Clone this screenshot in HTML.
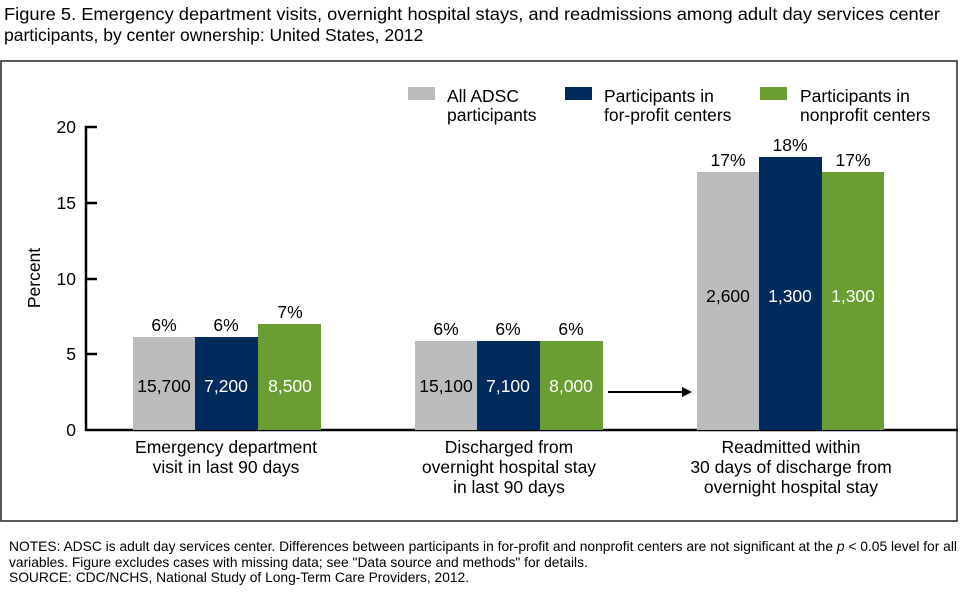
<!DOCTYPE html>
<html><head><meta charset="utf-8"><style>
html,body{margin:0;padding:0;background:#fff}
body{width:960px;height:587px;position:relative;overflow:hidden;font-family:"Liberation Sans",Arial,sans-serif}
</style></head><body>
<svg width="960" height="587" xmlns="http://www.w3.org/2000/svg" font-family="Liberation Sans, Arial, sans-serif">
<text x="4" y="20" font-size="17.5" textLength="936" lengthAdjust="spacingAndGlyphs">Figure 5. Emergency department visits, overnight hospital stays, and readmissions among adult day services center</text>
<text x="4" y="41" font-size="17.5">participants, by center ownership: United States, 2012</text>
<rect x="1" y="61" width="956" height="460" fill="none" stroke="#222" stroke-width="1.5"/>
<!-- legend -->
<rect x="408" y="87" width="27" height="13" fill="#BBBCBE"/>
<text x="447" y="102" font-size="17.5">All ADSC</text><text x="447" y="121" font-size="17.5">participants</text>
<rect x="565" y="87" width="27" height="13" fill="#002B5C"/>
<text x="604" y="102" font-size="17.5">Participants in</text><text x="604" y="121" font-size="17.5">for-profit centers</text>
<rect x="760" y="87" width="27" height="13" fill="#6A9E33"/>
<text x="800" y="102" font-size="17.5">Participants in</text><text x="800" y="121" font-size="17.5">nonprofit centers</text>
<!-- axis -->
<g stroke="#000" stroke-width="2.5" fill="none">
<path d="M97 127H86V430H958"/>
<path d="M86 203H97M86 279H97M86 354H97"/>
</g>
<g font-size="17.5" text-anchor="end">
<text x="76" y="133">20</text><text x="76" y="209">15</text><text x="76" y="285">10</text><text x="76" y="360">5</text><text x="76" y="436">0</text>
</g>
<text transform="translate(40,278) rotate(-90)" font-size="17.5" text-anchor="middle">Percent</text>
<!-- bars -->
<rect x="133" y="337" width="62" height="93" fill="#BBBCBE"/>
<rect x="195" y="337" width="63" height="93" fill="#002B5C"/>
<rect x="258" y="324" width="63" height="106" fill="#6A9E33"/>
<rect x="415" y="341" width="62" height="89" fill="#BBBCBE"/>
<rect x="477" y="341" width="63" height="89" fill="#002B5C"/>
<rect x="540" y="341" width="63" height="89" fill="#6A9E33"/>
<rect x="697" y="172" width="62" height="258" fill="#BBBCBE"/>
<rect x="759" y="157" width="63" height="273" fill="#002B5C"/>
<rect x="822" y="172" width="62" height="258" fill="#6A9E33"/>
<g font-size="17.5" text-anchor="middle">
<text x="164" y="331">6%</text><text x="226" y="331">6%</text><text x="290" y="318">7%</text>
<text x="446" y="335">6%</text><text x="508" y="335">6%</text><text x="571" y="335">6%</text>
<text x="728" y="166">17%</text><text x="790" y="151">18%</text><text x="853" y="166">17%</text>
<text x="164" y="392">15,700</text><text x="226" y="392" fill="#fff">7,200</text><text x="290" y="392" fill="#fff">8,500</text>
<text x="446" y="392">15,100</text><text x="508" y="392" fill="#fff">7,100</text><text x="571" y="392" fill="#fff">8,000</text>
<text x="728" y="302">2,600</text><text x="790" y="302" fill="#fff">1,300</text><text x="853" y="302" fill="#fff">1,300</text>
<text x="226" y="453">Emergency department</text><text x="226" y="473">visit in last 90 days</text>
<text x="509" y="453">Discharged from</text><text x="509" y="473">overnight hospital stay</text><text x="509" y="493">in last 90 days</text>
<text x="791" y="453">Readmitted within</text><text x="791" y="473">30 days of discharge from</text><text x="791" y="493">overnight hospital stay</text>
</g>
<path d="M608 392H684" stroke="#000" stroke-width="2"/>
<path d="M692 392L682 387V397Z" fill="#000"/>
<g font-size="13.8">
<text x="9" y="551" textLength="948" lengthAdjust="spacingAndGlyphs">NOTES: ADSC is adult day services center. Differences between participants in for-profit and nonprofit centers are not significant at the <tspan font-style="italic">p</tspan> &lt; 0.05 level for all</text>
<text x="9" y="567">variables. Figure excludes cases with missing data; see "Data source and methods" for details.</text>
<text x="9" y="582">SOURCE: CDC/NCHS, National Study of Long-Term Care Providers, 2012.</text>
</g>
</svg>
</body></html>
